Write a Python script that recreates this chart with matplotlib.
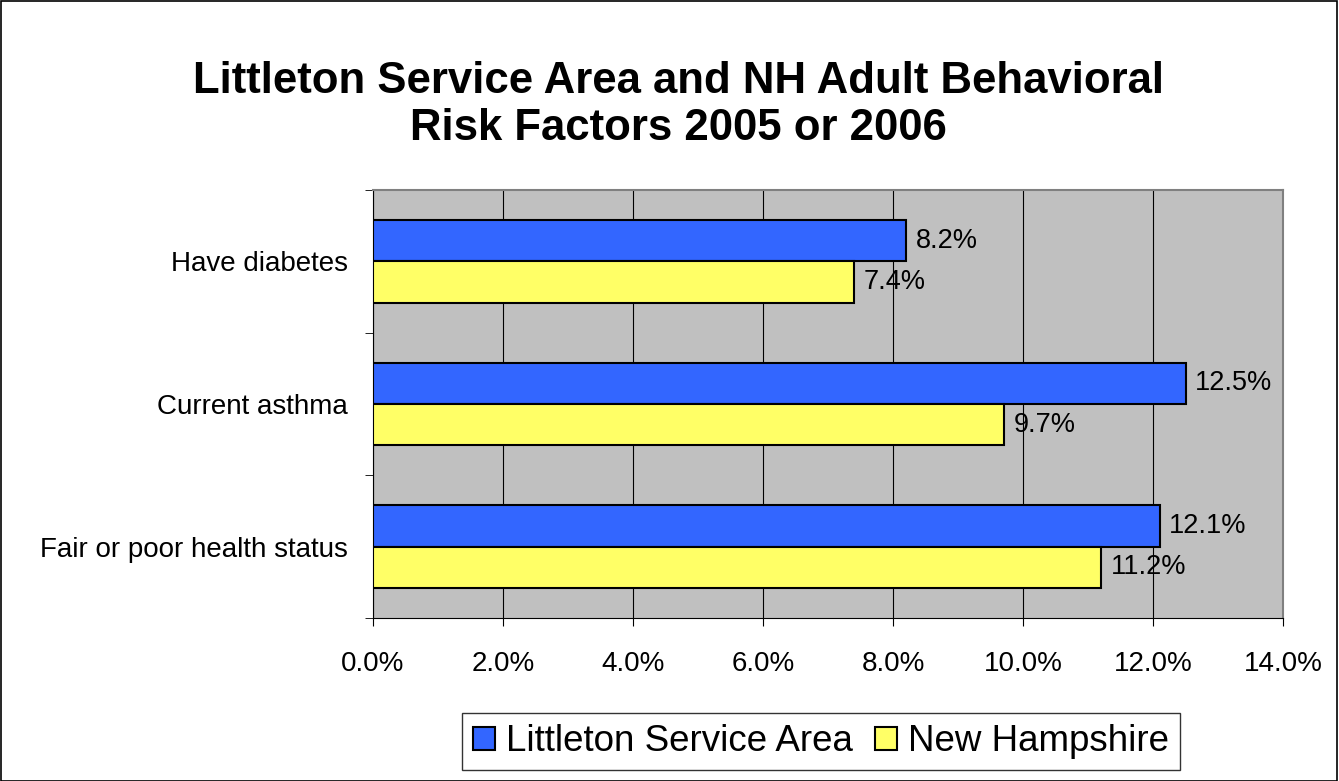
import matplotlib
matplotlib.use("Agg")
import matplotlib.pyplot as plt
from matplotlib.patches import Rectangle
import numpy as np

categories = ["Fair or poor health status", "Current asthma", "Have diabetes"]
littleton = [12.1, 12.5, 8.2]
new_hampshire = [11.2, 9.7, 7.4]
series_names = ["Littleton Service Area", "New Hampshire"]
xticks = [0, 2, 4, 6, 8, 10, 12, 14]

plt.rcParams['font.family'] = ['Liberation Sans', 'DejaVu Sans']

fig = plt.figure(figsize=(13.39, 7.81), dpi=100)
fig.patch.set_facecolor("white")
fig.add_artist(Rectangle((0.0005, 0.0005), 0.998, 0.998, transform=fig.transFigure,
                         fill=False, edgecolor="black", linewidth=1.2))

ax = fig.add_axes([0.2786, 0.2087, 0.6796, 0.548])
ax.set_facecolor("#C0C0C0")

y = np.arange(len(categories))
h = 0.29
b1 = ax.barh(y + h / 2, littleton, height=h, color="#3366FF", edgecolor="black", linewidth=1.5,
             label=series_names[0], zorder=3)
b2 = ax.barh(y - h / 2, new_hampshire, height=h, color="#FFFF66", edgecolor="black", linewidth=1.5,
             label=series_names[1], zorder=3)

for bars, vals in ((b1, littleton), (b2, new_hampshire)):
    for rect, v in zip(bars, vals):
        ax.annotate(f"{v:.1f}%", (v, rect.get_y() + rect.get_height() / 2),
                    xytext=(7, 0), textcoords="offset points", va="center", ha="left",
                    fontsize=19.5, zorder=4)

ax.set_xlim(0, 14)
ax.set_ylim(-0.5, 2.5)
ax.set_xticks(xticks)
ax.set_xticklabels([f"{t:.1f}%" for t in xticks], fontsize=20)
ax.xaxis.grid(True, color="black", linewidth=0.8, zorder=1)
ax.set_axisbelow(True)

ax.set_yticks(y)
ax.set_yticklabels(categories, fontsize=20)
ax.tick_params(axis="y", length=0, pad=18)
ax.set_yticks([-0.5, 0.5, 1.5, 2.5], minor=True)
ax.tick_params(axis="y", which="minor", length=6, direction="out")
ax.tick_params(axis="x", length=6, direction="out", pad=18)

for s in ["top", "right"]:
    ax.spines[s].set_color("#808080")
    ax.spines[s].set_linewidth(1.5)
ax.spines["left"].set_color("black")
ax.spines["bottom"].set_color("black")

fig.text(0.507, 0.866, "Littleton Service Area and NH Adult Behavioral\nRisk Factors 2005 or 2006",
         ha="center", va="center", fontsize=31.5, fontweight="bold", linespacing=1.18)

leg = fig.legend(handles=[b1, b2], labels=series_names, loc="center", bbox_to_anchor=(0.613, 0.05),
                 ncol=2, fontsize=26.5, frameon=True, fancybox=False, edgecolor="black",
                 handlelength=0.6, handleheight=0.6, handletextpad=0.3, columnspacing=0.6,
                 borderpad=0.3)
leg.get_frame().set_linewidth(1.0)

fig.savefig("out.png", dpi=100)
